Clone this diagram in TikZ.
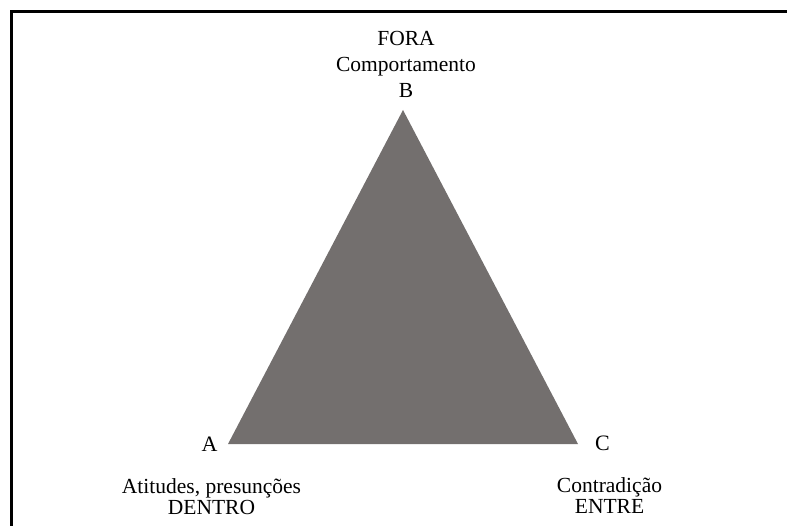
\documentclass[tikz,border=0pt]{standalone}
\usepackage{fontspec}
\setmainfont{Liberation Serif}
\definecolor{trifill}{RGB}{115,111,110}
\begin{document}
\begin{tikzpicture}[x=1pt,y=-1pt,
  lbl/.style={font=\fontsize{21.5}{24}\selectfont, anchor=base, inner sep=0pt},
  vtx/.style={font=\fontsize{22}{24}\selectfont, anchor=base, inner sep=0pt}]
\useasboundingbox (0,0) rectangle (787,526);
% frame (top and left edges)
\draw[line width=2.2pt, line cap=butt] (11.5,526) -- (11.5,11.5) -- (787,11.5);
% triangle corners
\coordinate (pB) at (403,110);
\coordinate (pA) at (228,444);
\coordinate (pC) at (578,444);
\fill[trifill] (pA) -- (pB) -- (pC) -- cycle;
% label above apex B
\node[lbl] (fora) at (406,45.7) {FORA};
\node[lbl] (comp) at (406,71.7) {Comportamento};
\node[lbl] (lb) at (406,97.7) {B};
% corner letters
\node[vtx] (la) at (209.5,451.5) {A};
\node[vtx] (lc) at (602.5,450.5) {C};
% labels below the base corners
\node[lbl] (atit) at (211.5,493.3) {Atitudes, presunções};
\node[lbl] (dentro) at (211.5,514.3) {DENTRO};
\node[lbl] (contr) at (609.5,492) {Contradição};
\node[lbl] (entre) at (609.5,513.5) {ENTRE};
\end{tikzpicture}
\end{document}
